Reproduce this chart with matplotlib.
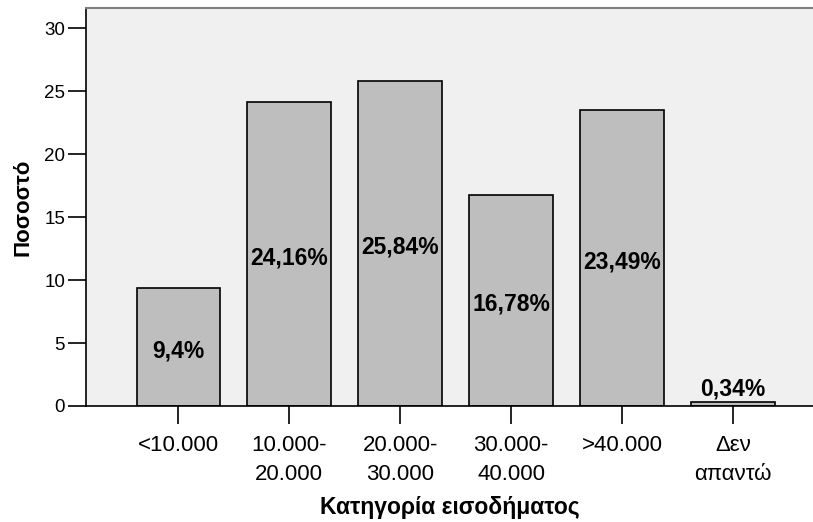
import matplotlib
matplotlib.use("Agg")
import matplotlib.pyplot as plt

plt.rcParams['font.family'] = ['Liberation Sans', 'DejaVu Sans']

categories = ['<10.000', '10.000-\n20.000', '20.000-\n30.000', '30.000-\n40.000', '>40.000', 'Δεν\nαπαντώ']
percent = [9.40, 24.16, 25.84, 16.78, 23.49, 0.34]
labels = ['9,4%', '24,16%', '25,84%', '16,78%', '23,49%', '0,34%']

fig = plt.figure(figsize=(8.13, 5.22), dpi=100)
ax = fig.add_axes([86 / 813, 116 / 522, 727 / 813, 398 / 522])
ax.set_facecolor('#f0f0f0')

x = list(range(len(categories)))
ax.bar(x, percent, width=0.75, color='#bebebe', edgecolor='black', linewidth=1.2, zorder=2)

for i, (v, lab) in enumerate(zip(percent, labels)):
    if v > 3:
        ax.text(i, v / 2 - 0.3, lab, ha='center', va='center', fontsize=16.5, fontweight='bold')
    else:
        ax.text(i, v + 0.1, lab, ha='center', va='bottom', fontsize=16.5, fontweight='bold')

ax.set_xlim(-0.83, 5.72)
ax.set_ylim(0, 31.6)
ax.set_yticks([0, 5, 10, 15, 20, 25, 30])
ax.set_xticks(x)
ax.set_xticklabels(categories, fontsize=16, linespacing=1.5)
ax.tick_params(axis='y', labelsize=13.5, length=13, width=1.2, pad=2)
ax.tick_params(axis='x', length=13, width=1.2, pad=8)

ax.spines['right'].set_visible(False)
ax.spines['top'].set_color('#808080')
ax.spines['top'].set_linewidth(1.5)
ax.spines['left'].set_linewidth(1.2)
ax.spines['bottom'].set_linewidth(1.2)

ax.set_xlabel('Κατηγορία εισοδήματος', fontsize=16.5, fontweight='bold', labelpad=8)
ax.set_ylabel('Ποσοστό', fontsize=16, fontweight='bold', labelpad=8)

fig.savefig('out.png', dpi=100)
